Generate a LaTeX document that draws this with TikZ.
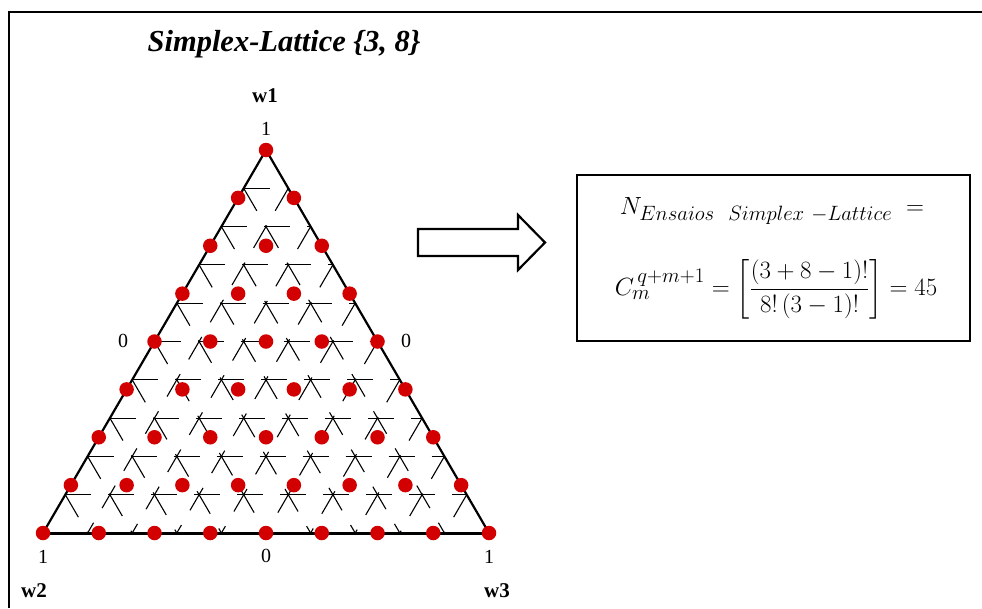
\documentclass[tikz,border=0pt]{standalone}
\usepackage[no-math]{fontspec}
\setmainfont{Liberation Serif}
\usepackage{amsmath}
\definecolor{dotred}{RGB}{210,0,0}
\tikzset{
  gridline/.style={line width=1.1pt, black, dash pattern=on 26pt off 17pt},
  edgeline/.style={line width=2.2pt, black, line join=round},
  latdot/.style={circle, fill=dotred, inner sep=0pt, minimum size=14.5pt},
  ticklab/.style={font=\fontsize{20}{22}\selectfont, inner sep=0pt},
  axlab/.style={font=\fontsize{21}{24}\selectfont\bfseries, inner sep=0pt},
  frameline/.style={line width=2pt, black},
  formula/.style={inner sep=0pt, font=\fontsize{28}{32}\selectfont},
}
\begin{document}
\begin{tikzpicture}[x=1pt,y=-1pt]
\useasboundingbox (0,0) rectangle (982,608);
\fill[white] (0,0) rectangle (982,608);
% frame (top and left only visible)
\coordinate (FTL) at (9,12);
\coordinate (FTR) at (982,12);
\coordinate (FBL) at (9,608);
\draw[frameline] (FTR) -- (FTL) -- (FBL);
% title
\node[font=\fontsize{30.5}{34}\selectfont\bfseries\itshape] (title) at (284,44) {Simplex-Lattice \{3, 8\}};
% triangle corners
\coordinate (A) at (266,150);
\coordinate (B) at (43,533);
\coordinate (C) at (489,533);
% grid lines (10 divisions)
\foreach \k in {1,...,9}{
  \pgfmathsetmacro{\t}{\k/10}
  % w1 = const (horizontal)
  \coordinate (h1\k) at ({43+223*\t},{533-383*\t});
  \coordinate (h2\k) at ({489-223*\t},{533-383*\t});
  \draw[gridline] (h1\k) -- (h2\k);
  % w2 = const (parallel to AC)
  \coordinate (p1\k) at ({266-223*\t},{150+383*\t});
  \coordinate (p2\k) at ({489-446*\t},533);
  \draw[gridline] (p1\k) -- (p2\k);
  % w3 = const (parallel to AB)
  \coordinate (q1\k) at ({266+223*\t},{150+383*\t});
  \coordinate (q2\k) at ({43+446*\t},533);
  \draw[gridline] (q1\k) -- (q2\k);
}
% triangle edges
\draw[edgeline] (A) -- (B);
\draw[edgeline] (A) -- (C);
\draw[line width=3pt] (B) -- (C);
% lattice points {3,8}
\foreach \i in {0,...,8}{
  \pgfmathtruncatemacro{\jmax}{8-\i}
  \foreach \j in {0,...,\jmax}{
    \node[latdot] (d\i-\j) at ({(266*\i+43*\j+489*(8-\i-\j))/8},{533-383*\i/8}) {};
  }
}
% tick labels
\node[ticklab] (t1) at (266,129) {1};
\node[ticklab] (t2) at (123,341) {0};
\node[ticklab] (t3) at (406,341) {0};
\node[ticklab] (t4) at (43,557) {1};
\node[ticklab] (t5) at (266,556) {0};
\node[ticklab] (t6) at (489,557) {1};
% axis labels
\node[axlab] (w1) at (265,96) {w1};
\node[axlab] (w2) at (34,591) {w2};
\node[axlab] (w3) at (497,591) {w3};
% block arrow
\coordinate (ar1) at (418,229);
\coordinate (ar2) at (518,229);
\coordinate (ar3) at (518,215);
\coordinate (ar4) at (545,242.5);
\coordinate (ar5) at (518,270);
\coordinate (ar6) at (518,256);
\coordinate (ar7) at (418,256);
\draw[line width=2.2pt, line join=miter] (ar1) -- (ar2) -- (ar3) -- (ar4) -- (ar5) -- (ar6) -- (ar7) -- cycle;
% formula box
\draw[line width=2pt] (577,175) rectangle (970,341);
\node[formula] (f1) at (772,211)
  {$N_{Ensaios\ \ Simplex\ {-}Lattice}\ =$};
\node[formula] (f2) at (776,289)
  {$C_{m}^{\,q+m+1}=\left[\dfrac{(3+8-1)!}{8!\,(3-1)!}\right]=45$};
\end{tikzpicture}
\end{document}
